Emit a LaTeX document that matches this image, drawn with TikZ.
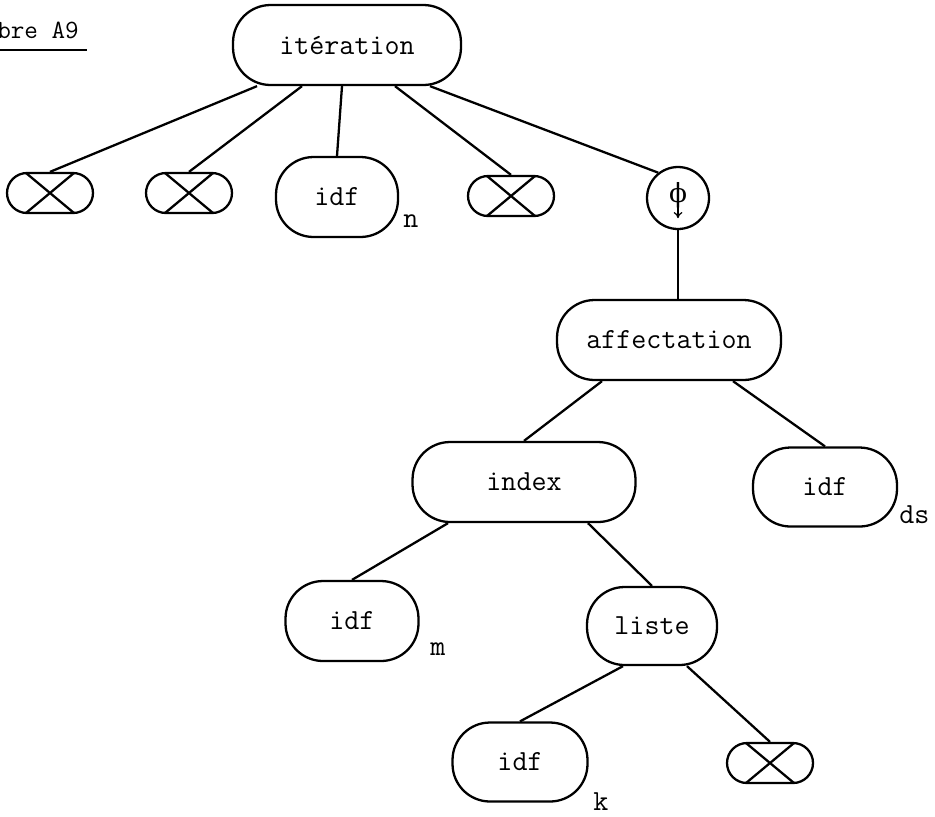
\documentclass[tikz,border=0pt]{standalone}
\usepackage{fontspec}
\newfontfamily\phifont{DejaVu Serif}
\usetikzlibrary{arrows.meta,positioning}

\begin{document}
\begin{tikzpicture}[
  x=0.02cm, y=-0.02cm,
  term/.style={rectangle, draw, rounded corners=0.75cm, line width=1.3pt,
    minimum height=1.6cm, inner sep=0pt, font=\ttfamily\fontsize{16.6}{19}\selectfont},
  void/.style={rectangle, draw, rounded corners=0.4cm, line width=1.3pt,
    minimum width=1.72cm, minimum height=0.8cm, inner sep=0pt,
    path picture={\draw[line width=1.3pt]
      ([xshift=0.38cm]path picture bounding box.north west) -- ([xshift=-0.38cm]path picture bounding box.south east)
      ([xshift=0.38cm]path picture bounding box.south west) -- ([xshift=-0.38cm]path picture bounding box.north east);}},
  cond/.style={circle, draw, line width=1.3pt, minimum size=1.24cm, inner sep=0pt,
    text height=8.4pt, text depth=3.6pt, font=\phifont\fontsize{15}{15}\selectfont,
    path picture={\draw[line width=0.7pt, -{To[length=3.5pt,width=5pt]}]
      ([yshift=-5pt]path picture bounding box.center) -- ([yshift=-11.5pt]path picture bounding box.center);}},
  sub/.style={anchor=base west, inner sep=0pt, font=\ttfamily\fontsize{16.6}{19}\selectfont},
  title/.style={anchor=base west, inner sep=0pt, font=\ttfamily\fontsize{15}{17}\selectfont},
  link/.style={line width=1.3pt}
]
\useasboundingbox (0,0) rectangle (935,816);

% caption
\node[title] (tag) at (-3,38) {bre A9};
\draw[line width=0.9pt] ([yshift=-0.24cm]tag.base west) -- ([xshift=0.16cm,yshift=-0.24cm]tag.base east);

% root and first level
\node[term, minimum width=4.56cm] (iter) at (347,45) {itération};
\node[void] (x1) at (50,193) {};
\node[void] (x2) at (189,193) {};
\node[term, minimum width=2.44cm] (idfn) at (337,197) {idf};
\node[sub] (subn) at (403,227) {n};
\node[void] (x3) at (511,196) {};
\node[cond] (phi) at (678,198) {ϕ};

% body
\node[term, minimum width=4.48cm] (aff) at (669,340) {affectation};
\node[term, minimum width=4.46cm] (index) at (524,482) {index};
\node[term, minimum width=2.88cm, minimum height=1.58cm] (ds) at (825,487) {idf};
\node[sub] (subds) at (899,523) {ds};
\node[term, minimum width=2.66cm] (idfm) at (352,621) {idf};
\node[sub] (subm) at (430,655) {m};
\node[term, minimum width=2.6cm, minimum height=1.56cm] (liste) at (652,626) {liste};
\node[term, minimum width=2.7cm, minimum height=1.58cm] (idfk) at (520,762) {idf};
\node[sub] (subk) at (593,810) {k};
\node[void] (x4) at (770,763) {};

\draw[link] ([xshift=-1.8cm]iter.south) -- (x1.north);
\draw[link] ([xshift=-0.9cm]iter.south) -- (x2.north);
\draw[link] ([xshift=-0.1cm]iter.south) -- (idfn.north);
\draw[link] ([xshift=0.96cm]iter.south) -- (x3.north);
\draw[link] ([xshift=1.66cm]iter.south) -- (phi.128);
\draw[link] (phi.south) -- (phi.south |- aff.north);
\draw[link] ([xshift=-1.34cm]aff.south) -- (index.north);
\draw[link] ([xshift=1.28cm]aff.south) -- (ds.north);
\draw[link] ([xshift=-1.52cm]index.south) -- (idfm.north);
\draw[link] ([xshift=1.28cm]index.south) -- (liste.north);
\draw[link] ([xshift=-0.58cm]liste.south) -- (idfk.north);
\draw[link] ([xshift=0.7cm]liste.south) -- (x4.north);
\end{tikzpicture}
\end{document}
